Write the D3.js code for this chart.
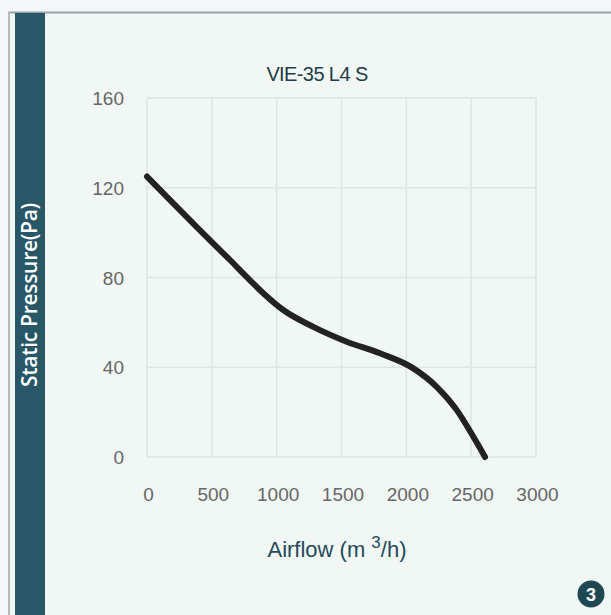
<!DOCTYPE html>
<html><head><meta charset="utf-8">
<script src="https://cdn.jsdelivr.net/npm/d3@7"></script>
<style>html,body{margin:0;padding:0;background:#f3f7f9;}svg{display:block}</style>
</head><body>
<script>
const title = "VIE-35 L4 S";
const airflow = [0, 203, 409, 640, 795, 897, 1051, 1283, 1540, 1797, 2054, 2234, 2388, 2517, 2607];
const pressure = [125, 113, 101, 87.8, 78.7, 73, 65.5, 58, 51.4, 46.2, 39.5, 31.3, 21, 9, 0];
const xTicks = [0, 500, 1000, 1500, 2000, 2500, 3000];
const yTicks = [0, 40, 80, 120, 160];

const W = 611, H = 615;
const svg = d3.select("body").append("svg").attr("width", W).attr("height", H);

svg.append("rect").attr("x",0).attr("y",0).attr("width",W).attr("height",H).attr("fill","#f3f7f9");
// panel
svg.append("rect").attr("x",9).attr("y",13).attr("width",W-9).attr("height",H-13).attr("fill","#f1f7f5");
svg.append("line").attr("x1",8).attr("x2",W).attr("y1",12.5).attr("y2",12.5).attr("stroke","#9aa2a4").attr("stroke-width",2);
svg.append("line").attr("x1",9).attr("x2",9).attr("y1",12).attr("y2",H).attr("stroke","#b5bcbe").attr("stroke-width",2);
// sidebar
svg.append("rect").attr("x",15).attr("y",13).attr("width",30).attr("height",H-13).attr("fill","#285767");
svg.append("text").attr("transform","translate(37,295) rotate(-90)")
  .attr("text-anchor","middle").attr("fill","#ffffff").attr("font-family","Open Sans, Noto Sans, sans-serif")
  .attr("font-size",21).attr("font-weight",600).attr("letter-spacing","-0.3").text("Static Pressure(Pa)");

const x = d3.scaleLinear().domain([0,3000]).range([147,536]);
const y = d3.scaleLinear().domain([0,160]).range([457,98]);

const g = svg.append("g");
g.selectAll(".vg").data(xTicks).join("line").attr("x1",d=>x(d)).attr("x2",d=>x(d))
  .attr("y1",y(160)).attr("y2",y(0)).attr("stroke","#dde6e4").attr("stroke-width",1.5);
g.selectAll(".hg").data(yTicks).join("line").attr("x1",x(0)).attr("x2",x(3000))
  .attr("y1",d=>y(d)).attr("y2",d=>y(d)).attr("stroke","#dde6e4").attr("stroke-width",1.5);

const xAxis = d3.axisBottom(x).tickValues(xTicks).tickFormat(d3.format("d")).tickSize(0).tickPadding(0);
const yAxis = d3.axisLeft(y).tickValues(yTicks).tickFormat(d3.format("d")).tickSize(0).tickPadding(0);
const xa = svg.append("g").attr("transform",`translate(1,${y(0)+44})`).call(xAxis);
const ya = svg.append("g").attr("transform",`translate(${x(0)-23},0)`).call(yAxis);
[xa,ya].forEach(a=>{
  a.select(".domain").remove();
  a.selectAll("text").attr("fill","#666666").attr("font-family","Liberation Sans, Arial, sans-serif").attr("font-size",19);
});
ya.selectAll("text").attr("dy","0.35em");
xa.selectAll("text").attr("dy","0");

const line = d3.line().x((d,i)=>x(airflow[i])).y((d,i)=>y(pressure[i])).curve(d3.curveMonotoneX);
svg.append("path").datum(pressure).attr("d",line).attr("fill","none")
  .attr("stroke","#222222").attr("stroke-width",6).attr("stroke-linecap","round");

svg.append("text").attr("x",317).attr("y",81).attr("text-anchor","middle")
  .attr("fill","#233c46").attr("font-family","Liberation Sans, Arial, sans-serif")
  .attr("font-size",20).attr("letter-spacing","-0.6").text(title);

const xl = svg.append("text").attr("x",337).attr("y",557).attr("text-anchor","middle")
  .attr("fill","#25495a").attr("font-family","Liberation Sans, Arial, sans-serif").attr("font-size",22);
xl.append("tspan").text("Airflow (m ");
xl.append("tspan").attr("dy",-9).attr("font-size",17).text("3");
xl.append("tspan").attr("dy",9).text("/h)");

svg.append("circle").attr("cx",591).attr("cy",594).attr("r",13.5).attr("fill","#1f4853");
svg.append("text").attr("x",591).attr("y",600.5).attr("text-anchor","middle").attr("fill","#fff")
  .attr("font-family","Liberation Sans, Arial, sans-serif").attr("font-size",18).attr("font-weight",700).text("3");
</script>
</body></html>
